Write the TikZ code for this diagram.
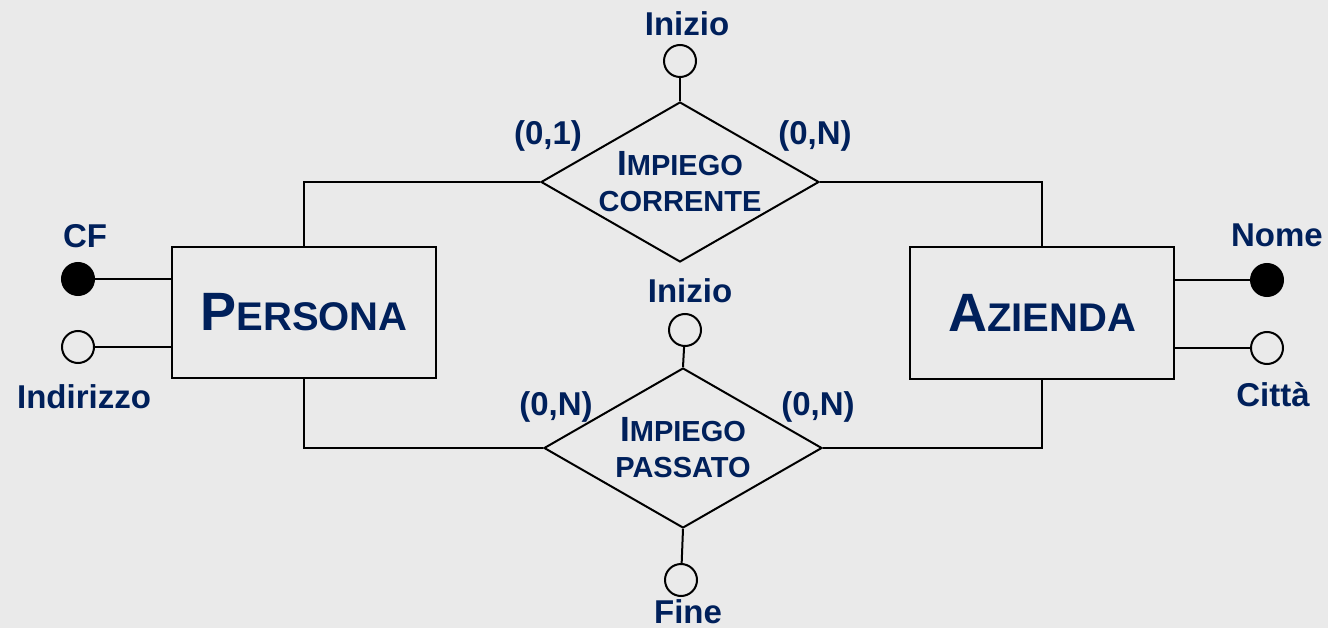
\documentclass[tikz,border=0pt]{standalone}
\usepackage{fontspec}
\setmainfont{Liberation Sans}
\usetikzlibrary{shapes.geometric}
\definecolor{bg}{HTML}{EAEAEA}
\definecolor{ink}{HTML}{00205B}
\newcommand{\capsA}[4]{{\fontsize{#1}{#1}\selectfont #3}{\fontsize{#2}{#2}\selectfont #4}}
\begin{document}
\begin{tikzpicture}[x=1pt,y=-1pt,line width=2pt,
  entity/.style={draw=black,rectangle,minimum width=264pt,minimum height=131pt,inner sep=0pt,text=ink,font=\bfseries},
  relation/.style={draw=black,diamond,minimum width=278pt,minimum height=160pt,inner sep=0pt},
  reltext/.style={text=ink,align=center,inner sep=0pt,font=\bfseries\fontsize{29}{36}\selectfont},
  attr/.style={draw=black,circle,minimum size=32pt,inner sep=0pt},
  keyattr/.style={attr,fill=black},
  lbl/.style={text=ink,font=\bfseries\fontsize{33}{36}\selectfont,anchor=base,inner sep=0pt}]
\fill[bg] (0,0) rectangle (1328,628);
\node[entity] (persona) at (304,312.5) {\capsA{54}{40}{P}{ERSONA}};
\node[entity] (azienda) at (1042,313) {\capsA{54}{40}{A}{ZIENDA}};
\node[relation,label={[reltext]center:\capsA{35}{29}{I}{MPIEGO}\\CORRENTE}] (corr) at (680,182) {};
\node[relation,label={[reltext]center:\capsA{35}{29}{I}{MPIEGO}\\PASSATO}] (pass) at (683,448) {};
\node[keyattr] (cf) at (78,279) {};
\node[attr] (ind) at (78,347) {};
\node[keyattr] (nome) at (1267,280) {};
\node[attr] (citta) at (1267,348) {};
\node[attr] (in1) at (680,61) {};
\node[attr] (in2) at (685,330) {};
\node[attr] (fine) at (681,580) {};
\draw (cf) -- (cf -| persona.west);
\draw (ind) -- (ind -| persona.west);
\draw (nome) -- (nome -| azienda.east);
\draw (citta) -- (citta -| azienda.east);
\draw (in1) -- (corr.north);
\draw (in2) -- (pass.north);
\draw (fine) -- (pass.south);
\draw (persona.north) |- (corr.west);
\draw (persona.south) |- (pass.west);
\draw (azienda.north) |- (corr.east);
\draw (azienda.south) |- (pass.east);
\node[lbl] (tin1) at (687,36) {Inizio};
\node[lbl] (tc1) at (548,145) {(0,1)};
\node[lbl] (tc2) at (815,145) {(0,N)};
\node[lbl] (tcf) at (85,248) {CF};
\node[lbl] (tind) at (84,408) {Indirizzo};
\node[lbl] (tnome) at (1277,247) {Nome};
\node[lbl] (tcitta) at (1273,406) {Città};
\node[lbl] (tin2) at (690,303) {Inizio};
\node[lbl] (tc3) at (556,415) {(0,N)};
\node[lbl] (tc4) at (818,415) {(0,N)};
\node[lbl] (tfine) at (688,623) {Fine};
\end{tikzpicture}
\end{document}
